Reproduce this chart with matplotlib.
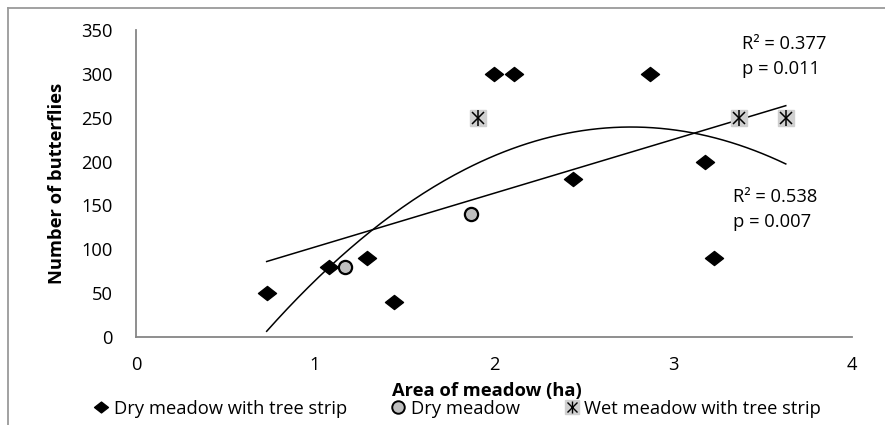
import numpy as np
import matplotlib
matplotlib.use("Agg")
import matplotlib.pyplot as plt
from matplotlib.path import Path
from matplotlib.lines import Line2D
from matplotlib.legend_handler import HandlerTuple

plt.rcParams['font.family'] = ['Open Sans', 'DejaVu Sans']

# data
dry_tree_x = [0.73, 1.08, 1.29, 1.44, 2.00, 2.11, 2.44, 2.87, 3.18, 3.23]
dry_tree_y = [50, 80, 90, 40, 300, 300, 180, 300, 200, 90]
dry_x = [1.17, 1.87]
dry_y = [80, 140]
wet_x = [1.91, 3.37, 3.63]
wet_y = [250, 250, 250]

series_names = ["Dry meadow with tree strip", "Dry meadow", "Wet meadow with tree strip"]
stats_lin = ["R\u00b2 = 0.377", "p = 0.011"]
stats_quad = ["R\u00b2 = 0.538", "p = 0.007"]

all_x = np.array(dry_tree_x + dry_x + wet_x)
all_y = np.array(dry_tree_y + dry_y + wet_y)

FS = 13.2

fig = plt.figure(figsize=(8.85, 4.25), dpi=100)
ax = fig.add_axes([136/885, 1-337/425, 716/885, 307/425])

# excel style diamond, a bit wider than tall
diamond = Path([(-1, 0), (0, 0.78), (1, 0), (0, -0.78), (-1, 0)],
               [Path.MOVETO, Path.LINETO, Path.LINETO, Path.LINETO, Path.CLOSEPOLY])

# trend lines fitted on all points
xs = np.linspace(all_x.min(), all_x.max(), 200)
lin = np.polyfit(all_x, all_y, 1)
quad = np.polyfit(all_x, all_y, 2)
ax.plot(xs, np.polyval(lin, xs), color='black', lw=1.1, zorder=2)
ax.plot(xs, np.polyval(quad, xs), color='black', lw=1.1, zorder=2)

ax.plot(dry_tree_x, dry_tree_y, ls='none', marker=diamond, ms=13, color='black', zorder=3)
ax.plot(dry_x, dry_y, ls='none', marker='o', ms=9.5, mfc='#bfbfbf', mec='black', mew=1.6, zorder=3)
ax.plot(wet_x, wet_y, ls='none', marker='s', ms=12, mfc='#d0d0d0', mec='#d0d0d0', zorder=3)
ax.plot(wet_x, wet_y, ls='none', marker='x', ms=9, mec='black', mew=1.1, zorder=4)
ax.plot(wet_x, wet_y, ls='none', marker='|', ms=11, mec='black', mew=1.1, zorder=4)

ax.set_xlim(0, 4)
ax.set_ylim(0, 350)
ax.set_xticks([0, 1, 2, 3, 4])
ax.set_yticks(np.arange(0, 351, 50))
for s in ['top', 'right']:
    ax.spines[s].set_visible(False)
for s in ['left', 'bottom']:
    ax.spines[s].set_color('#868686')
    ax.spines[s].set_linewidth(1.3)
ax.tick_params(axis='both', length=0, labelsize=FS)
ax.tick_params(axis='y', pad=17)
ax.tick_params(axis='x', pad=14)

ax.set_xlabel("Area of meadow (ha)", fontsize=FS, fontweight='bold')
ax.xaxis.set_label_coords(0.49, -0.147)
ax.set_ylabel("Number of butterflies", fontsize=FS, fontweight='bold')
ax.yaxis.set_label_coords(-0.098, 0.5)

ax.text(3.385, 334, stats_lin[0], fontsize=FS, va='center')
ax.text(3.385, 305, stats_lin[1], fontsize=FS, va='center')
ax.text(3.335, 160, stats_quad[0], fontsize=FS, va='center')
ax.text(3.335, 131, stats_quad[1], fontsize=FS, va='center')

h1 = Line2D([], [], ls='none', marker=diamond, ms=10, color='black')
h2 = Line2D([], [], ls='none', marker='o', ms=9, mfc='#bfbfbf', mec='black', mew=1.4)
h3a = Line2D([], [], ls='none', marker='s', ms=10, mfc='#d0d0d0', mec='#d0d0d0')
h3b = Line2D([], [], ls='none', marker='x', ms=7.5, mec='black', mew=1.0)
h3c = Line2D([], [], ls='none', marker='|', ms=9, mec='black', mew=1.0)
fig.legend([h1, h2, (h3a, h3b, h3c)], series_names, loc='center',
           bbox_to_anchor=(0.517, 0.038), ncol=3, frameon=False, fontsize=FS,
           handlelength=0.8, handletextpad=0.3, columnspacing=2.4,
           handler_map={tuple: HandlerTuple(ndivide=1)})

# outer chart frame
fig.add_artist(Line2D([8/885, 8/885], [0, 1-8/425], color='#9a9a9a', lw=1.3, transform=fig.transFigure))
fig.add_artist(Line2D([8/885, 1], [1-8/425, 1-8/425], color='#9a9a9a', lw=1.3, transform=fig.transFigure))

fig.savefig("out.png", dpi=100)
